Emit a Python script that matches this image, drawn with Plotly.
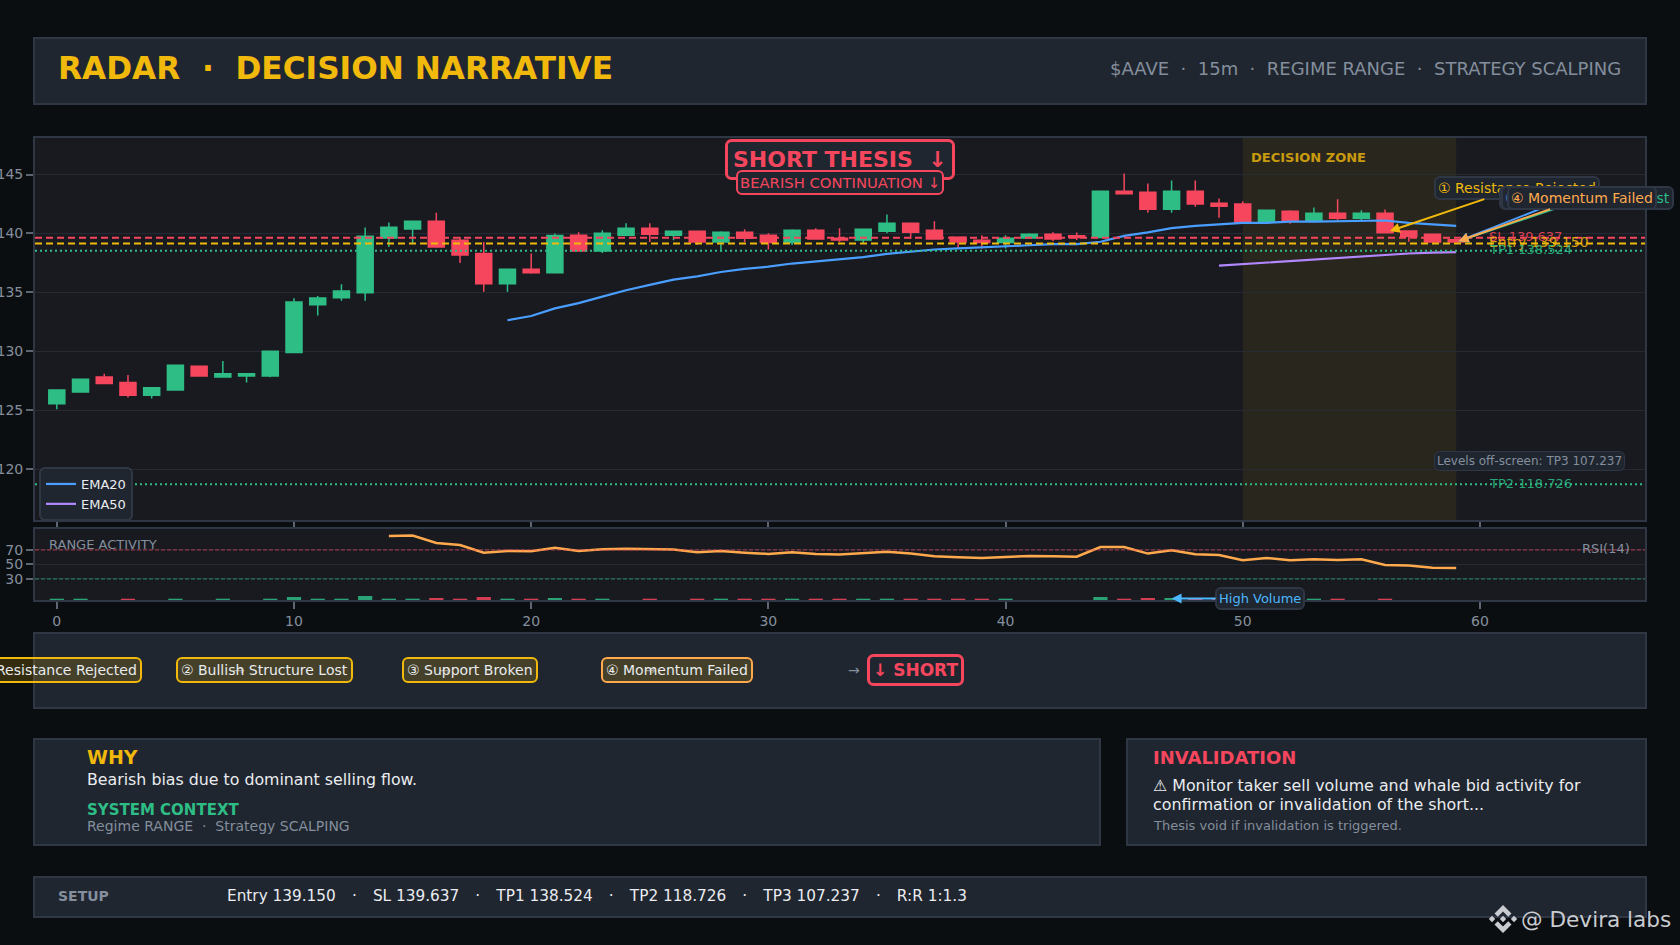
import plotly.graph_objects as go
from plotly.subplots import make_subplots

W, H = 1680, 945

AMBER = "#F0B90B"
RED = "#F6465D"
GREEN = "#2EBD85"
ORANGE = "#FFA94D"
BLUE = "#4A9EFF"
PURPLE = "#B388FF"
GRAY = "#848E9C"
WHITE = "#EAECEF"
PAGE = "#0B0E11"
PLOT = "#181A20"
PANEL = "#1F2630"
EDGE = "#2F3644"
FONT = "DejaVu Sans"

candle_x = list(range(60))
opens = [125.55, 126.55, 127.82, 127.36, 126.27, 126.73, 128.73, 127.82, 127.91, 127.91,
         129.9, 133.96, 134.55, 134.97, 139.62, 140.38, 141.03, 139.42, 138.3, 135.73,
         136.97, 136.66, 139.85, 138.52, 139.85, 140.44, 139.85, 140.18, 139.28, 140.1,
         139.85, 139.23, 140.27, 139.59, 139.45, 140.18, 140.86, 140.27, 139.68, 139.42,
         139.23, 139.62, 139.93, 139.8, 139.66, 143.59, 143.5, 142.06, 143.59, 142.57,
         142.49, 140.96, 141.89, 141.13, 141.72, 141.3, 141.72, 140.2, 139.94, 139.46]
highs = [126.73, 127.64, 128.09, 128.0, 126.91, 128.82, 128.73, 129.18, 128.09, 130.0,
         134.5, 134.7, 135.7, 140.5, 140.94, 141.03, 141.76, 139.7, 139.28, 136.97,
         138.3, 139.99, 140.1, 140.27, 140.86, 140.86, 140.18, 140.18, 140.18, 140.35,
         140.01, 140.35, 140.44, 140.44, 140.35, 141.62, 140.86, 141.03, 139.68, 139.85,
         139.85, 140.01, 140.1, 140.08, 143.59, 145.08, 144.24, 144.5, 144.5, 142.97,
         142.74, 141.98, 141.98, 142.2, 142.91, 141.98, 142.03, 140.2, 140.0, 139.5]
lows = [125.09, 126.55, 127.27, 126.09, 126.0, 126.73, 127.91, 127.82, 127.36, 127.8,
        129.85, 133.03, 134.3, 134.3, 138.86, 139.08, 138.86, 137.5, 135.06, 135.06,
        136.58, 136.66, 138.52, 138.35, 139.76, 139.28, 139.42, 139.03, 138.44, 139.28,
        138.63, 139.03, 139.54, 139.28, 139.2, 140.01, 139.54, 139.54, 138.77, 138.72,
        138.72, 139.62, 139.37, 139.44, 139.66, 143.36, 141.75, 141.75, 142.26, 141.33,
        140.96, 140.96, 140.82, 141.13, 141.13, 141.13, 140.06, 139.29, 139.27, 139.27]
closes = [126.73, 127.64, 127.27, 126.27, 126.91, 128.82, 127.91, 128.09, 128.09, 130.0,
          134.18, 134.52, 135.11, 139.76, 140.52, 141.03, 138.86, 138.18, 135.73, 136.97,
          136.66, 139.82, 138.52, 140.01, 140.44, 139.93, 140.18, 139.28, 140.1, 139.59,
          139.23, 140.27, 139.54, 139.45, 140.35, 140.86, 140.1, 139.54, 139.28, 139.23,
          139.59, 139.93, 139.54, 139.66, 143.59, 143.36, 142.06, 143.59, 142.49, 142.32,
          140.96, 141.98, 141.13, 141.72, 141.3, 141.72, 140.06, 139.77, 139.27, 139.27]

ema20_x = list(range(19, 60))
ema20 = [132.64, 133.0, 133.64, 134.09, 134.64, 135.18, 135.64, 136.09, 136.36, 136.73,
         137.0, 137.18, 137.45, 137.64, 137.8, 138.0, 138.27, 138.45, 138.64, 138.73,
         138.8, 138.9, 139.0, 139.1, 139.1, 139.3, 139.8, 140.1, 140.45, 140.64,
         140.8, 140.9, 140.9, 141.0, 141.0, 141.05, 141.1, 141.1, 140.9, 140.8, 140.64]
ema50_x = list(range(49, 60))
ema50 = [137.27, 137.4, 137.55, 137.68, 137.8, 137.95, 138.1, 138.22, 138.3, 138.38, 138.42]

rsi_x = list(range(14, 60))
rsi = [89.3, 89.8, 79.7, 76.9, 66.3, 68.6, 68.2, 73.2, 68.6, 70.9,
       71.8, 70.9, 70.5, 66.8, 68.6, 66.3, 64.5, 66.8, 64.5, 63.6,
       65.9, 67.7, 65.0, 61.3, 59.9, 59.0, 60.3, 61.7, 61.3, 60.8,
       74.1, 74.1, 65.0, 69.5, 64.0, 63.1, 55.7, 59.0, 55.7, 57.1,
       56.2, 57.1, 49.3, 48.4, 45.6, 45.2]
volume = [2.8, 2.8, 0.2, 2.8, 0.2, 2.8, 0.2, 2.8, 0.2, 2.8,
          5.1, 2.8, 2.8, 6.5, 2.8, 2.8, 3.8, 2.8, 5.1, 2.8,
          2.8, 3.8, 2.8, 2.8, 0.2, 2.8, 0.2, 2.8, 2.8, 2.8,
          2.8, 2.8, 2.8, 2.8, 2.8, 2.8, 2.8, 2.8, 2.8, 2.8,
          2.8, 0.2, 0.2, 0.2, 5.1, 2.8, 3.8, 3.8, 2.8, 2.8,
          0.2, 2.8, 0.2, 2.8, 2.8, 0.2, 2.8, 0.2, 0.2, 0.2]

sl_level = 139.637
entry_level = 139.150
tp1_level = 138.524
tp2_level = 118.726

flow_labels = ["① Resistance Rejected", "② Bullish Structure Lost", "③ Support Broken", "④ Momentum Failed"]
SEP = "\u00a0\u00a0·\u00a0\u00a0"
WIDE_SEP = "\u00a0\u00a0\u00a0\u200a·\u00a0\u00a0\u00a0\u200a"


def px(v):
    return v / W


def py(v):
    return 1 - v / H


def panel(x0, y0, x1, y1):
    fig.add_shape(type="rect", xref="paper", yref="paper", x0=px(x0), x1=px(x1), y0=py(y0), y1=py(y1),
                  fillcolor=PANEL, line=dict(color=EDGE, width=2), layer="below")


def text(x, y, s, size, color, bold=False, anchor="left", **kw):
    if bold:
        s = "<b>" + s + "</b>"
    fig.add_annotation(xref="paper", yref="paper", x=px(x), y=py(y), text=s, showarrow=False,
                       xanchor=anchor, yanchor="middle", font=dict(family=FONT, size=size, color=color), **kw)


def poly(points, color):
    d = "M" + " L".join(f"{px(a)},{py(b)}" for a, b in points) + " Z"
    fig.add_shape(type="path", xref="paper", yref="paper", path=d, fillcolor=color, line_width=0, layer="above")


fig = make_subplots(rows=2, cols=1)

fig.add_trace(go.Candlestick(x=candle_x, open=opens, high=highs, low=lows, close=closes,
                             increasing=dict(line=dict(color=GREEN, width=1.5), fillcolor=GREEN),
                             decreasing=dict(line=dict(color=RED, width=1.5), fillcolor=RED),
                             whiskerwidth=0, showlegend=False, hoverinfo="skip"), row=1, col=1)
fig.add_trace(go.Scatter(x=ema20_x, y=ema20, mode="lines", name="EMA20",
                         line=dict(color=BLUE, width=2.2)), row=1, col=1)
fig.add_trace(go.Scatter(x=ema50_x, y=ema50, mode="lines", name="EMA50",
                         line=dict(color=PURPLE, width=2.2)), row=1, col=1)

vol_colors = [GREEN if c >= o else RED for o, c in zip(opens, closes)]
fig.add_trace(go.Bar(x=candle_x, y=volume, marker=dict(color=vol_colors, line_width=0), opacity=0.85,
                     width=0.6, showlegend=False, hoverinfo="skip"), row=2, col=1)
fig.add_trace(go.Scatter(x=rsi_x, y=rsi, mode="lines", line=dict(color=ORANGE, width=2.5),
                         showlegend=False, hoverinfo="skip"), row=2, col=1)

# panels behind everything
panel(34, 38, 1646, 104)
panel(34, 633, 1646, 708)
panel(34, 739, 1100, 845)
panel(1127, 739, 1646, 845)
panel(34, 877, 1646, 917)

# decision zone and levels
fig.add_shape(type="rect", xref="x", yref="y domain", x0=50, x1=59, y0=0, y1=1,
              fillcolor=AMBER, opacity=0.08, line_width=0, layer="below")
for level, color, dash, width in [(sl_level, RED, "7px,4px", 2), (entry_level, AMBER, "7px,4px", 2),
                                  (tp1_level, GREEN, "2px,3px", 2), (tp2_level, GREEN, "2px,3px", 2)]:
    fig.add_hline(y=level, line=dict(color=color, dash=dash, width=width), row=1, col=1)
fig.add_hline(y=70, line=dict(color=RED, dash="4px,2px", width=1), opacity=0.7, row=2, col=1)
fig.add_hline(y=30, line=dict(color=GREEN, dash="4px,2px", width=1), opacity=0.7, row=2, col=1)

fig.update_layout(
    width=W, height=H, margin=dict(l=0, r=0, t=0, b=0), autosize=False,
    paper_bgcolor=PAGE, plot_bgcolor=PLOT, boxgap=0.1, boxgroupgap=0.25,
    font=dict(family=FONT, size=13, color=GRAY),
    legend=dict(x=px(39), y=py(467), xanchor="left", yanchor="top", bgcolor=PANEL, bordercolor=EDGE, borderwidth=2,
                font=dict(size=13, color=WHITE)),
    xaxis=dict(domain=[px(35), px(1645)], range=[-0.92, 66.96], rangeslider_visible=False, showticklabels=False,
               anchor="y", tickvals=[0, 10, 20, 30, 40, 50, 60]),
    yaxis=dict(domain=[py(520), py(138)], range=[115.69, 148.1], tickvals=[120, 125, 130, 135, 140, 145],
               anchor="x"),
    xaxis2=dict(domain=[px(35), px(1645)], range=[-0.92, 66.96], tickvals=[0, 10, 20, 30, 40, 50, 60], anchor="y2"),
    yaxis2=dict(domain=[py(600), py(529)], range=[1, 98.9], tickvals=[30, 50, 70], anchor="x2"),
)
for ax in ["xaxis", "yaxis", "xaxis2", "yaxis2"]:
    fig.layout[ax].update(automargin=False, showline=True, mirror=True, linecolor=EDGE, linewidth=2, ticks="outside",
                          ticklen=7, tickwidth=2, tickcolor="#5E6673", zeroline=False, gridcolor="#262A32",
                          gridwidth=1, tickfont=dict(size=14, color=GRAY))
fig.layout.xaxis.showgrid = False
fig.layout.xaxis2.showgrid = False

# header
text(56, 68, "RADAR" + SEP + "DECISION NARRATIVE", 31.2, AMBER, bold=True)
text(1623, 69, "$AAVE" + SEP + "15m" + SEP + "REGIME RANGE" + SEP + "STRATEGY SCALPING", 18, GRAY, anchor="right")

# thesis banner
text(840, 159.5, "SHORT THESIS\u00a0\u00a0↓", 22, RED, bold=True, anchor="center", bgcolor=PANEL, bordercolor=RED,
     borderwidth=3, borderpad=5)
text(840, 183, "BEARISH CONTINUATION ↓", 14.8, RED, anchor="center", bgcolor=PANEL, bordercolor=RED, borderwidth=2,
     borderpad=2)
text(1249.4, 157, "DECISION ZONE", 13, AMBER, bold=True, opacity=0.8)

# level labels
for level, label, size, color in [(sl_level, "SL 139.637", 13, RED), (entry_level, "Entry 139.150", 14, AMBER),
                                  (tp1_level, "TP1 138.524", 13, GREEN), (tp2_level, "TP2 118.726", 13, GREEN)]:
    fig.add_annotation(x=60.3, y=level, xref="x", yref="y", text=label, showarrow=False, xanchor="left",
                       yshift=1, opacity=0.85, font=dict(family=FONT, size=size, color=color))
text(1529, 461, "Levels off-screen: TP3 107.237", 12, GRAY, anchor="center", bgcolor=PANEL, bordercolor=EDGE,
     borderwidth=1, borderpad=2)

# story arrows
for label, color, tip_x, tip_y, ax_off in [(flow_labels[0], AMBER, 56.2, 140.2, 127),
                                           (flow_labels[1], GREEN, 59.1, 139.35, 128),
                                           (flow_labels[2], BLUE, 59.1, 139.35, 109),
                                           (flow_labels[3], ORANGE, 59.1, 139.35, 123)]:
    fig.add_annotation(x=tip_x, y=tip_y, xref="x", yref="y", text=label, showarrow=True, arrowhead=2, arrowsize=1,
                       arrowwidth=2, arrowcolor=color, ax=ax_off, ay=-43,
                       font=dict(family=FONT, size=14, color=color), bgcolor=PANEL, bordercolor=EDGE, borderwidth=2,
                       borderpad=2)

# rsi panel texts
text(47.3, 544, "RANGE ACTIVITY", 13, GRAY)
text(1632, 548, "RSI(14)", 13, GRAY, anchor="right")
fig.add_annotation(x=47, y=3, xref="x2", yref="y2", text="High Volume", showarrow=True, arrowhead=2, arrowwidth=2,
                   arrowcolor="#4DB8FF", ax=88, ay=0, font=dict(family=FONT, size=13, color="#4DB8FF"),
                   bgcolor=PANEL, bordercolor=EDGE, borderwidth=2, borderpad=2)

# flow row
chip_bg = "rgba(240,185,11,0.18)"
for x_pos in [239, 445, 650]:
    text(x_pos, 670, "→", 14, GRAY, anchor="center")
for x_pos, label, border in [(58, flow_labels[0], AMBER), (264, flow_labels[1], AMBER),
                             (470, flow_labels[2], AMBER), (677, flow_labels[3], ORANGE)]:
    text(x_pos, 670, label, 14, WHITE, anchor="center", bgcolor=chip_bg, bordercolor=border, borderwidth=2,
         borderpad=3)
text(854, 670, "→", 14, GRAY, anchor="center")
text(916, 670, "↓ SHORT", 17, RED, bold=True, anchor="center", bgcolor=PANEL, bordercolor=RED, borderwidth=3,
     borderpad=3)

# why panel
text(84.8, 757, "WHY", 19, AMBER, bold=True)
text(84.8, 779, "Bearish bias due to dominant selling flow.", 15.8, WHITE)
text(84.8, 810, "SYSTEM CONTEXT", 15, GREEN, bold=True)
text(84.8, 826, "Regime RANGE" + SEP + "Strategy SCALPING", 14, GRAY)

# invalidation panel
text(1151, 757, "INVALIDATION", 18, RED, bold=True)
text(1151, 785, "⚠ Monitor taker sell volume and whale bid activity for", 15.85, WHITE)
text(1151, 804, "confirmation or invalidation of the short...", 15.85, WHITE)
text(1151, 825, "Thesis void if invalidation is triggered.", 13, GRAY)

# setup strip
text(56, 896, "SETUP", 14, GRAY, bold=True)
text(225, 896, WIDE_SEP.join(["Entry 139.150", "SL 139.637", "TP1 138.524", "TP2 118.726", "TP3 107.237", "R:R 1:1.3"]),
     15.3, WHITE)

# watermark
logo_color = "#C8CBD0"
cx, cy = 1503, 919
for dx in [-11, 0, 11]:
    poly([(cx + dx, cy - 3.2), (cx + dx + 3.2, cy), (cx + dx, cy + 3.2), (cx + dx - 3.2, cy)], logo_color)
for sign in [-1, 1]:
    poly([(cx, cy + sign * 14), (cx + 8.5, cy + sign * 5.5), (cx + 5.2, cy + sign * 2.2), (cx, cy + sign * 7.4),
          (cx - 5.2, cy + sign * 2.2), (cx - 8.5, cy + sign * 5.5)], logo_color)
text(1519, 919, "@ Devira labs", 21.6, logo_color)

fig.write_html("out.html", config={"displayModeBar": False}, post_script="""
document.body.style.margin = '0';
document.body.style.overflow = 'hidden';
document.querySelectorAll('.annotation rect.bg, .legend rect.bg').forEach(function (r) {
    r.setAttribute('rx', 5);
    r.setAttribute('ry', 5);
});
""")
